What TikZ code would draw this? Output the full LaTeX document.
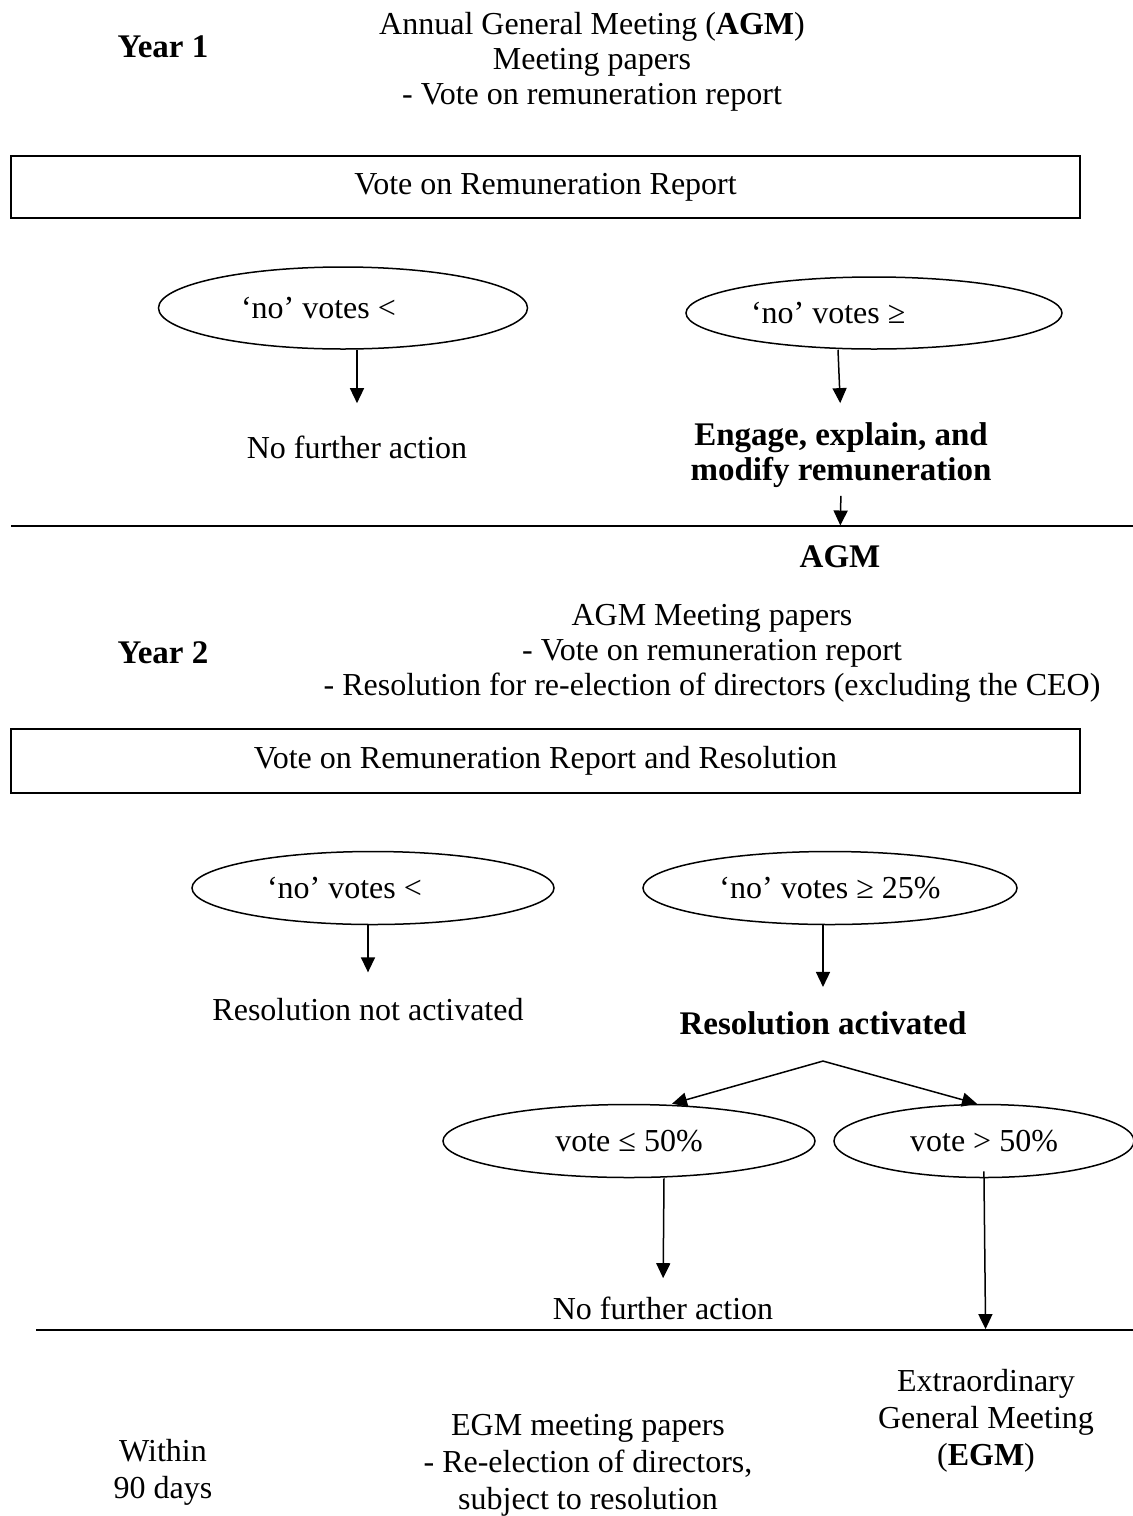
\documentclass[tikz,border=0pt]{standalone}
\usepackage{fontspec}
\setmainfont{Liberation Serif}
\usetikzlibrary{shapes.geometric}
\usetikzlibrary{arrows.meta}
\tikzset{box/.style={draw=#1,line width=0.8pt,minimum width=534.5pt,minimum height=31pt},box/.default=black}
\tikzset{oval/.style={draw=#1,ellipse,line width=0.75pt,minimum height=36.5pt},oval/.default=black}
\tikzset{flow/.style={color=#1,line width=0.75pt,-{Triangle[length=7.5pt,width=7pt]}},flow/.default=black}
\tikzset{divider/.style={color=#1,line width=0.9pt},divider/.default=black}

\begin{document}
\begin{tikzpicture}[x=0.5pt,y=-0.5pt,
	every node/.style={inner sep=0pt,font=\fontsize{16}{17.5}\selectfont}]
	\useasboundingbox (0,0) rectangle (1133,1516);

	% Ano 1
	\node[font=\fontsize{16.5}{17.5}\selectfont\bfseries] (Y1) at (163,47) {Year 1};
	\node[align=center] (T1) at (592,62) {Annual General Meeting (\textbf{AGM})\\Meeting papers\\- Vote on remuneration report};
	\node[box] (B1) at (545.5,187) {Vote on Remuneration Report};

	\node[oval,minimum width=184.5pt,minimum height=41pt,text width=102pt,align=flush left] (E1) at (343,308) {‘no’ votes <};
	\node[oval,minimum width=188pt,minimum height=36pt,text width=123pt,align=flush left] (E2) at (874,313) {‘no’ votes ≥};
	\node (N1) at (357,447) {No further action};
	\node[align=center,font=\fontsize{16.5}{17.5}\selectfont\bfseries] (G1) at (841,455) {Engage, explain, and\\modify remuneration};
	\node[font=\fontsize{16.5}{17.5}\selectfont\bfseries] (AGM) at (840,557) {AGM};

	\draw[flow,shorten >=16pt] (E1.south -| N1) -- (N1.north);
	\draw[flow,shorten >=9.5pt] ([xshift=-18pt]E2.south) -- (G1.north);
	\draw[flow,shorten <=4pt,shorten >=10pt] (G1.south) -- (AGM.north);

	% A linha do ano 1
	\draw[divider] (11,526) -- (1133,526);

	% Ano 2
	\node[font=\fontsize{16.5}{17.5}\selectfont\bfseries] (Y2) at (163,653) {Year 2};
	\node[align=center] (T2) at (712,653) {AGM Meeting papers\\- Vote on remuneration report\\- Resolution for re-election of directors (excluding the CEO)};
	\node[box,minimum height=32pt] (B2) at (545.5,761) {Vote on Remuneration Report and Resolution};

	\node[oval,minimum width=181pt,text width=106pt,align=flush left] (E3) at (373,888) {‘no’ votes <};
	\node[oval,minimum width=187pt] (E4) at (830,888) {‘no’ votes ≥ 25\%};
	\node (R1) at (368,1010) {Resolution not activated};
	\node[font=\fontsize{16.5}{17.5}\selectfont\bfseries] (RA) at (823,1023) {Resolution activated};

	\draw[flow,shorten >=13pt] (E3.south -| R1) -- (R1.north);
	\draw[flow,shorten >=12pt] (E4.south -| RA) -- (RA.north);

	\node[oval,minimum width=186pt] (E5) at (629,1141) {vote ≤ 50\%};
	\node[oval,minimum width=150pt] (E6) at (984,1141) {vote > 50\%};
	\coordinate (ap) at ([yshift=-13pt]RA.south);
	\draw[flow] (ap) -- ([xshift=21.5pt]E5.north);
	\draw[flow] (ap) -- ([xshift=-3.5pt]E6.north);

	\node (N2) at (663,1308) {No further action};
	\draw[flow,shorten >=9pt] ([xshift=17.5pt]E5.south) -- (N2.north);

	% A linha do ano 2
	\draw[divider] (36,1330) -- (1133,1330);

	% Dentro de 90 dias
	\node[align=center,font=\fontsize{16}{18.5}\selectfont] (W) at (163,1472) {Within\\90 days};
	\node[align=center,font=\fontsize{16}{18.5}\selectfont] (P3) at (588,1465) {EGM meeting papers\\- Re-election of directors,\\subject to resolution};
	\node[align=center,font=\fontsize{16}{18.5}\selectfont] (X1) at (986,1421) {Extraordinary\\General Meeting\\(\textbf{EGM})};

	\draw[flow,shorten <=-3.5pt,shorten >=20pt] (E6.south) -- (X1.north);

\end{tikzpicture}
\end{document}
